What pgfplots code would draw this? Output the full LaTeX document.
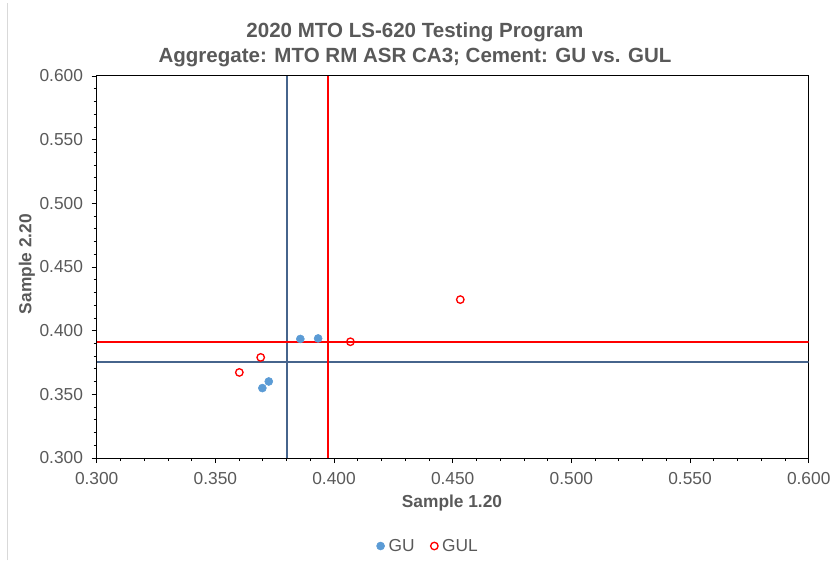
\documentclass[border=0pt]{standalone}
\usepackage{fontspec}
\setmainfont{Liberation Sans}
\usepackage{pgfplots}
\pgfplotsset{compat=1.18}

\definecolor{txtgray}{HTML}{595959}
\definecolor{gublue}{HTML}{5B9BD5}
\definecolor{meanblue}{RGB}{70,100,140}
\definecolor{gulred}{HTML}{FF0000}
\definecolor{framegray}{HTML}{D9D9D9}

\begin{document}
\begin{tikzpicture}[x=0.75pt,y=0.75pt]
\begin{pgfinterruptboundingbox}
\begin{axis}[
  name=ax,
  scale only axis,
  width=534pt, height=286.5pt,
  xmin=0.3, xmax=0.6, ymin=0.3, ymax=0.6,
  xtick={0.3,0.35,...,0.61}, ytick={0.3,0.35,...,0.61},
  minor tick num=4,
  xtick pos=bottom, ytick pos=left,
  tick align=outside,
  major tick length=3.75pt, minor tick length=2.25pt,
  tick style={black, line width=0.6pt},
  axis line style={black, line width=0.75pt},
  ticklabel style={font=\fontsize{13}{15}\selectfont, text=txtgray},
  /pgf/number format/assume math mode=true,
  xticklabel style={yshift=-3.5pt},
  yticklabel style={xshift=-3pt},
  /pgf/number format/.cd, fixed, fixed zerofill, precision=3, /pgfplots/.cd,
  scaled ticks=false,
  clip=true,
  legend style={at={(0.466,-0.2304)}, anchor=center, draw=none, fill=none,
    font=\fontsize{13}{15}\selectfont, text=txtgray,
    /tikz/every even column/.append style={column sep=10pt},
    /tikz/every odd column/.append style={column sep=1pt}},
  legend columns=2,
  legend cell align=left,
]
% mean lines
\addplot[meanblue, line width=1.2pt, forget plot] coordinates {(0.3803,0.3) (0.3803,0.6)};
\addplot[meanblue, line width=1.2pt, forget plot] coordinates {(0.3,0.3756) (0.6,0.3756)};
\addplot[gulred, line width=1.5pt, forget plot] coordinates {(0.3973,0.3) (0.3973,0.6)};
\addplot[gulred, line width=1.5pt, forget plot] coordinates {(0.3,0.3908) (0.6,0.3908)};

% GU
\addplot[only marks, mark=*, mark size=3pt, color=gublue, mark options={draw=gublue, fill=gublue}] coordinates {
  (0.3858,0.3935) (0.3933,0.3939) (0.3698,0.3549) (0.3725,0.3601)};
\addlegendentry{GU}
% GUL
\addplot[only marks, mark=o, mark size=2.8pt, color=gulred, mark options={line width=1pt}] coordinates {
  (0.3691,0.3790) (0.3601,0.3672) (0.4069,0.3913) (0.4532,0.4244)};
\addlegendentry{GUL}
\end{axis}
\end{pgfinterruptboundingbox}

% canvas 831 x 563 px, axis box lower left at (96.7,105) from the canvas's lower left
\path[use as bounding box] ([shift={(-96.7,-105)}]ax.south west) rectangle ++(831,563);
\draw[framegray,line width=0.75pt] ([shift={(-88.7,-102)}]ax.south west) -- ++(0,557);

% titles and labels
\node[font=\bfseries\fontsize{15.4}{18}\selectfont, text=txtgray, align=center] at ([shift={(318.3,413.5)}]ax.south west)
  {2020 MTO LS-620 Testing Program\\[1pt]Aggregate: MTO RM ASR CA3; Cement: GU vs. GUL};
\node[font=\bfseries\fontsize{13}{15}\selectfont, text=txtgray] at ([shift={(355.3,-45)}]ax.south west) {Sample 1.20};
\node[font=\bfseries\fontsize{13}{15}\selectfont, text=txtgray, rotate=90] at ([shift={(-69.7,194)}]ax.south west) {Sample 2.20};
\end{tikzpicture}
\end{document}
